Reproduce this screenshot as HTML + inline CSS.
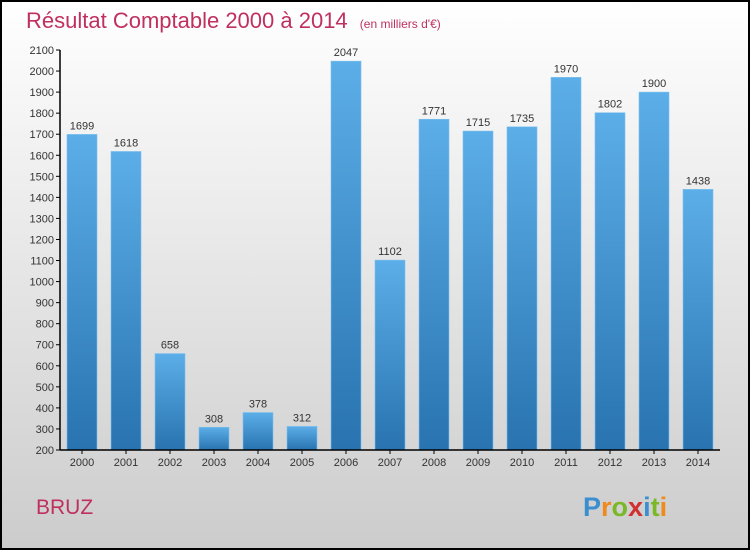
<!DOCTYPE html>
<html><head><meta charset="utf-8"><style>
body{margin:0}
#c{width:750px;height:550px;position:relative;overflow:hidden;font-family:"Liberation Sans",sans-serif}
</style></head><body>
<div id="c">
<svg id="s" width="750" height="550" xmlns="http://www.w3.org/2000/svg">
<defs>
<linearGradient id="bg" x1="0" y1="0" x2="0" y2="1"><stop offset="0" stop-color="#ffffff"/><stop offset="1" stop-color="#cccccc"/></linearGradient>
<linearGradient id="bar" x1="0" y1="0" x2="0" y2="1"><stop offset="0" stop-color="#5caee8"/><stop offset="1" stop-color="#2873b0"/></linearGradient>
</defs>
<rect x="1" y="1" width="748" height="548" fill="url(#bg)" stroke="#000" stroke-width="2"/>
<text x="26" y="28" font-size="22" fill="#c0305f" font-weight="300">Résultat Comptable 2000 à 2014 <tspan font-size="12" dx="6">(en milliers d'€)</tspan></text>
<text x="36" y="514" font-size="21" fill="#c0305f">BRUZ</text>
<text x="583" y="516" font-size="27" font-weight="bold"><tspan fill="#3a8fd0">P</tspan><tspan fill="#f08a1c">r</tspan><tspan fill="#7ab828">o</tspan><tspan fill="#d03030">x</tspan><tspan fill="#3a8fd0">i</tspan><tspan fill="#7ab828">t</tspan><tspan fill="#f08a1c">i</tspan></text>
<g id="g"></g>
</svg>
</div>
<script>
const categories=["2000","2001","2002","2003","2004","2005","2006","2007","2008","2009","2010","2011","2012","2013","2014"];
const values=[1699,1618,658,308,378,312,2047,1102,1771,1715,1735,1970,1802,1900,1438];
const yTicks=[200,300,400,500,600,700,800,900,1000,1100,1200,1300,1400,1500,1600,1700,1800,1900,2000,2100];
const NS="http://www.w3.org/2000/svg",g=document.getElementById('g');
const y=v=>450-(v-200)*400/1900;
const x=i=>82+i*44;
function mk(t,a){const e=document.createElementNS(NS,t);for(const k in a)e.setAttribute(k,a[k]);g.appendChild(e);return e;}
yTicks.forEach(v=>{
 const l=mk('line',{x1:56,x2:60,y1:y(v),y2:y(v),stroke:'#000'});
 
 
 const t=mk('text',{x:54,y:y(v)+4,'text-anchor':'end','font-size':11,fill:'#333'});
 t.textContent=v;
 
 
});
categories.forEach((c,i)=>{
 const b=mk('rect',{x:x(i)-15,y:y(values[i]),width:30,height:450-y(values[i]),fill:'url(#bar)',stroke:'#7cc0ee','stroke-width':0.6});
 
 
 const vt=mk('text',{x:x(i),y:y(values[i])-5,'text-anchor':'middle','font-size':11,fill:'#333'});
 vt.textContent=values[i];
 
 
 const tk=mk('line',{x1:x(i),x2:x(i),y1:450,y2:454,stroke:'#000'});
 
 
 const xt=mk('text',{x:x(i),y:466,'text-anchor':'middle','font-size':11,fill:'#333'});
 xt.textContent=c;
 
 
});
const ya=mk('line',{x1:60,x2:60,y1:y(2100),y2:450,stroke:'#000','stroke-width':1.5});


const xa=mk('line',{x1:60,x2:720,y1:450,y2:450,stroke:'#000','stroke-width':1.5});


</script>
</body></html>
